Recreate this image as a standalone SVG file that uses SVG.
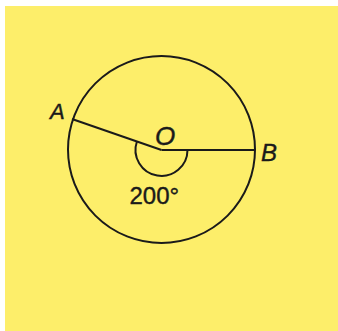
<svg xmlns="http://www.w3.org/2000/svg" width="338" height="331" viewBox="0 0 338 331">
<style>
.ln{fill:none;stroke:#1a1a1a;stroke-width:2}
.lb{font-family:"Liberation Sans",Arial,sans-serif;fill:#1a1a1a;stroke:#1a1a1a;stroke-width:0.4}
.it{font-style:italic}
</style>
<rect x="0" y="0" width="338" height="331" fill="#ffffff"/>
<rect x="5" y="6" width="333" height="325" fill="#fdee6a"/>
<g id="circle"><circle class="ln" cx="161.5" cy="149.5" r="93.5"/></g>
<g id="connectors">
<line class="ln" x1="161.5" y1="150" x2="72" y2="119"/>
<line class="ln" x1="161.5" y1="150" x2="255" y2="150"/>
<path class="ln" d="M136.9 141.5 A26 26 0 1 0 187.5 150"/>
</g>
<g id="labels">
<text class="lb it" x="50" y="119" font-size="22">A</text>
<text class="lb it" x="155" y="145" font-size="26">O</text>
<text class="lb it" x="261" y="160.5" font-size="24">B</text>
<text class="lb" x="129.5" y="204" font-size="24">200°</text>
</g>
</svg>
